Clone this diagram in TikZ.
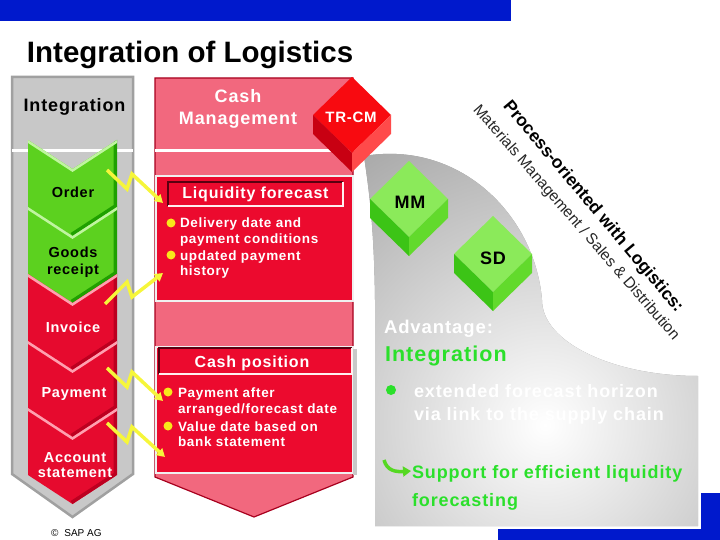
\documentclass[tikz,border=0pt]{standalone}
\usepackage{fontspec}
\setmainfont{Liberation Sans}
\newfontfamily\sapf[LetterSpace=5]{Liberation Sans}
\usetikzlibrary{arrows.meta}
\definecolor{sapblue}{HTML}{0019CC}
\definecolor{colgray}{HTML}{C8C8C8}
\definecolor{colgrayedge}{HTML}{A0A0A0}
\definecolor{sappink}{HTML}{F2687E}
\definecolor{sapred}{HTML}{EC0A2E}
\definecolor{sapdarkred}{HTML}{A8001E}
\definecolor{boxedge}{HTML}{5A0010}
\definecolor{chgreen}{HTML}{5CD11F}
\definecolor{chgreendark}{HTML}{1FA000}
\definecolor{chgreenlight}{HTML}{C0F5A0}
\definecolor{chred}{HTML}{E60A2E}
\definecolor{chreddark}{HTML}{BC0020}
\definecolor{chredlight}{HTML}{FFA0B0}
\definecolor{boltyellow}{HTML}{F6F63A}
\definecolor{dotyellow}{HTML}{F8E81A}
\definecolor{edgegray}{HTML}{969696}
\definecolor{txtgreen}{HTML}{2BE02B}
\definecolor{arrgreen}{HTML}{55D822}
\definecolor{mmtop}{HTML}{8BEA5A}
\definecolor{mmleft}{HTML}{3CC416}
\definecolor{mmright}{HTML}{62DA2C}
\definecolor{trtop}{HTML}{F80A10}
\definecolor{trleft}{HTML}{C80012}
\definecolor{trright}{HTML}{FF4A4A}
\newcommand\sapsize[1]{\fontsize{#1}{#1}\selectfont}
\newcommand\sapchev[4]{%
  \begin{scope}
    \path[clip] (28,#1) -- (72.5,#1+29) -- (117,#1) -- (117,#1+67) -- (72.5,#1+96) -- (28,#1+67) -- cycle;
    \fill[#2] (28,#1) rectangle (117,#1+96);
    \draw[#3, line width=7] (117,#1) -- (117,#1+67) -- (72.5,#1+96);
    \draw[#4, line width=5] (28,#1) -- (72.5,#1+29) -- (117,#1);
  \end{scope}}
\tikzset{
  pics/sapcube/.style n args={3}{code={
    \fill[#1] (0,0) -- (39,38) -- (0,76) -- (-39,38) -- cycle;
    \fill[#2] (-39,38) -- (0,76) -- (0,95) -- (-39,57) -- cycle;
    \fill[#3] (39,38) -- (0,76) -- (0,95) -- (39,57) -- cycle;
  }},
  bolt/.style={draw=boltyellow, line width=3.5, line join=miter, -{Triangle[length=8pt,width=9pt]}},
  chevtxt/.style={anchor=base, font=\sapf\bfseries\sapsize{14.5}},
  boxtxt/.style={anchor=base west, white, font=\sapf\bfseries\sapsize{13.5}},
  bigtxt/.style={anchor=base west, font=\sapf\bfseries\sapsize{18}},
}
\begin{document}
\begin{tikzpicture}[x=1pt,y=-1pt, every node/.style={inner sep=0pt, outer sep=0pt}]
\useasboundingbox (0,0) rectangle (720,540);
% top bar and title
\fill[sapblue] (0,0) rectangle (511,21);
\node[anchor=base west, font=\bfseries\sapsize{29.5}] (title) at (27,63) {Integration of Logistics};
% right gray area with blue shadow
\fill[sapblue] (498,493) rectangle (720,540);
\fill[white] (372,150) rectangle (701,529);
\begin{scope}
  \clip (375,526) -- (375,300) .. controls (374,220) and (368,185) .. (364,156)
        .. controls (460,140) and (535,215) .. (542,300)
        .. controls (542,342) and (612,376) .. (698,376) -- (698,526) -- cycle;
  \fill[edgegray] (360,140) rectangle (700,530);
  \shade[inner color=white, outer color=edgegray] (545,425) circle (400pt);
\end{scope}
% integration column
\filldraw[fill=colgray, draw=colgrayedge, line width=2.5] (12,77) -- (133,77) -- (133,474) -- (72.5,517) -- (12,474) -- cycle;
\draw[white, line width=3] (12,151) -- (133,151);
\node[anchor=base, font=\sapf\bfseries\sapsize{18}] (inthead) at (74.5,112) {Integration};
\sapchev{140}{chgreen}{chgreendark}{chgreenlight}
\sapchev{207}{chgreen}{chgreendark}{chgreenlight}
\sapchev{274}{chred}{chreddark}{chredlight}
\sapchev{341}{chred}{chreddark}{chredlight}
\sapchev{408}{chred}{chreddark}{chredlight}
\node[chevtxt] (order) at (73,198) {Order};
\node[chevtxt] (goods) at (73,258) {Goods};
\node[chevtxt] (receipt) at (73,274) {receipt};
\node[chevtxt, white] (invoice) at (73,332) {Invoice};
\node[chevtxt, white] (payment) at (74,397) {Payment};
\node[chevtxt, white] (account) at (75,462) {Account};
\node[chevtxt, white] (statement) at (75,477) {statement};
\node[anchor=base west, font=\sapsize{10}] (sap) at (51,536) {©\hspace{6pt}SAP AG};
% cash management column
\filldraw[fill=sappink, draw=sapdarkred, line width=1.2] (155,78) -- (353,78) -- (353,477) -- (254,517) -- (155,477) -- cycle;
\draw[white, line width=3] (155,151) -- (353,151);
\filldraw[fill=sapred, draw=white!88!gray, line width=2] (156,176) rectangle (353,301);
\filldraw[fill=sapred, draw=white!88!gray, line width=2] (156,347) rectangle (353,473);
\draw[colgray, line width=4] (355,349) -- (355,475);
\node[anchor=base, white, font=\sapf\bfseries\sapsize{18}] (cash1) at (238,103) {Cash};
\node[anchor=base, white, font=\sapf\bfseries\sapsize{18}] (cash2) at (238,125) {Management};
% liquidity forecast
\draw[boxedge, line width=1.5] (168,206) -- (168,182) -- (343,182);
\draw[white!75!pink, line width=1.5] (168,206) -- (343,206) -- (343,182);
\node[anchor=base, white, font=\sapf\bfseries\sapsize{16}] (liq) at (255.5,199) {Liquidity forecast};
\fill[dotyellow] (171,223) circle (4.5pt);
\fill[dotyellow] (171,255) circle (4.5pt);
\node[boxtxt] (l1) at (180,228) {Delivery date and};
\node[boxtxt] (l2) at (180,243.5) {payment conditions};
\node[boxtxt] (l3) at (180,260) {updated payment};
\node[boxtxt] (l4) at (180,275) {history};
% cash position
\draw[boxedge, line width=1.5] (159,374) -- (159,348) -- (352,348);
\draw[white!75!pink, line width=1.5] (159,374) -- (352,374) -- (352,348);
\node[anchor=base, white, font=\sapf\bfseries\sapsize{16}] (cpos) at (252,367) {Cash position};
\fill[dotyellow] (168,392) circle (4.5pt);
\fill[dotyellow] (168,426) circle (4.5pt);
\node[boxtxt] (p1) at (178,397) {Payment after};
\node[boxtxt] (p2) at (178,413.5) {arranged/forecast date};
\node[boxtxt] (p3) at (178,431) {Value date based on};
\node[boxtxt] (p4) at (178,446) {bank statement};
% cubes
\pic at (352,77) {sapcube={trtop}{trleft}{trright}};
\node[anchor=base, white, font=\sapf\bfseries\sapsize{15}] (trcm) at (351,123) {TR-CM};
\pic at (409,161) {sapcube={mmtop}{mmleft}{mmright}};
\node[anchor=base, font=\sapf\bfseries\sapsize{18}] (mm) at (410,209) {MM};
\pic at (493,216) {sapcube={mmtop}{mmleft}{mmright}};
\node[anchor=base, font=\sapf\bfseries\sapsize{18}] (sd) at (493,264) {SD};
% lightning bolts
\coordinate (b1a) at (107,170); \coordinate (b1b) at (127,189); \coordinate (b1c) at (132,174); \coordinate (b1d) at (163,203);
\coordinate (b2a) at (105,304); \coordinate (b2b) at (127,282); \coordinate (b2c) at (132,297); \coordinate (b2d) at (163,273);
\coordinate (b3a) at (107,368); \coordinate (b3b) at (127,387); \coordinate (b3c) at (132,372); \coordinate (b3d) at (163,401);
\coordinate (b4a) at (107,423); \coordinate (b4b) at (127,442); \coordinate (b4c) at (132,427); \coordinate (b4d) at (165,457);
\draw[bolt] (b1a) -- (b1b) -- (b1c) -- (b1d);
\draw[bolt] (b2a) -- (b2b) -- (b2c) -- (b2d);
\draw[bolt] (b3a) -- (b3b) -- (b3c) -- (b3d);
\draw[bolt] (b4a) -- (b4b) -- (b4c) -- (b4d);
% rotated texts
\node[rotate=-50, font=\bfseries\sapsize{17.5}] (proc) at (593,207) {Process-oriented with Logistics:};
\node[rotate=-49, font=\sapsize{15.5}, black!85] (mmsd) at (576,223) {Materials Management / Sales \& Distribution};
% advantage texts
\node[bigtxt, white, font=\sapf\bfseries\sapsize{18.5}] (adv) at (384,333) {Advantage:};
\node[bigtxt, txtgreen, font=\sapf\bfseries\sapsize{21.5}] (integ) at (385,361) {Integration};
\fill[txtgreen] (391,390) circle (5pt);
\node[bigtxt, white] (e1) at (414,397) {extended forecast horizon};
\node[bigtxt, white] (e2) at (414,420) {via link to the supply chain};
\coordinate (ga) at (384,460); \coordinate (gb) at (411,471);
\draw[arrgreen, line width=3.5, -{Triangle[length=8pt,width=10pt]}] (ga) .. controls (387,471) and (396,472) .. (gb);
\node[bigtxt, txtgreen] (s1) at (412,478) {Support for efficient liquidity};
\node[bigtxt, txtgreen] (s2) at (412,506) {forecasting};
\end{tikzpicture}
\end{document}
